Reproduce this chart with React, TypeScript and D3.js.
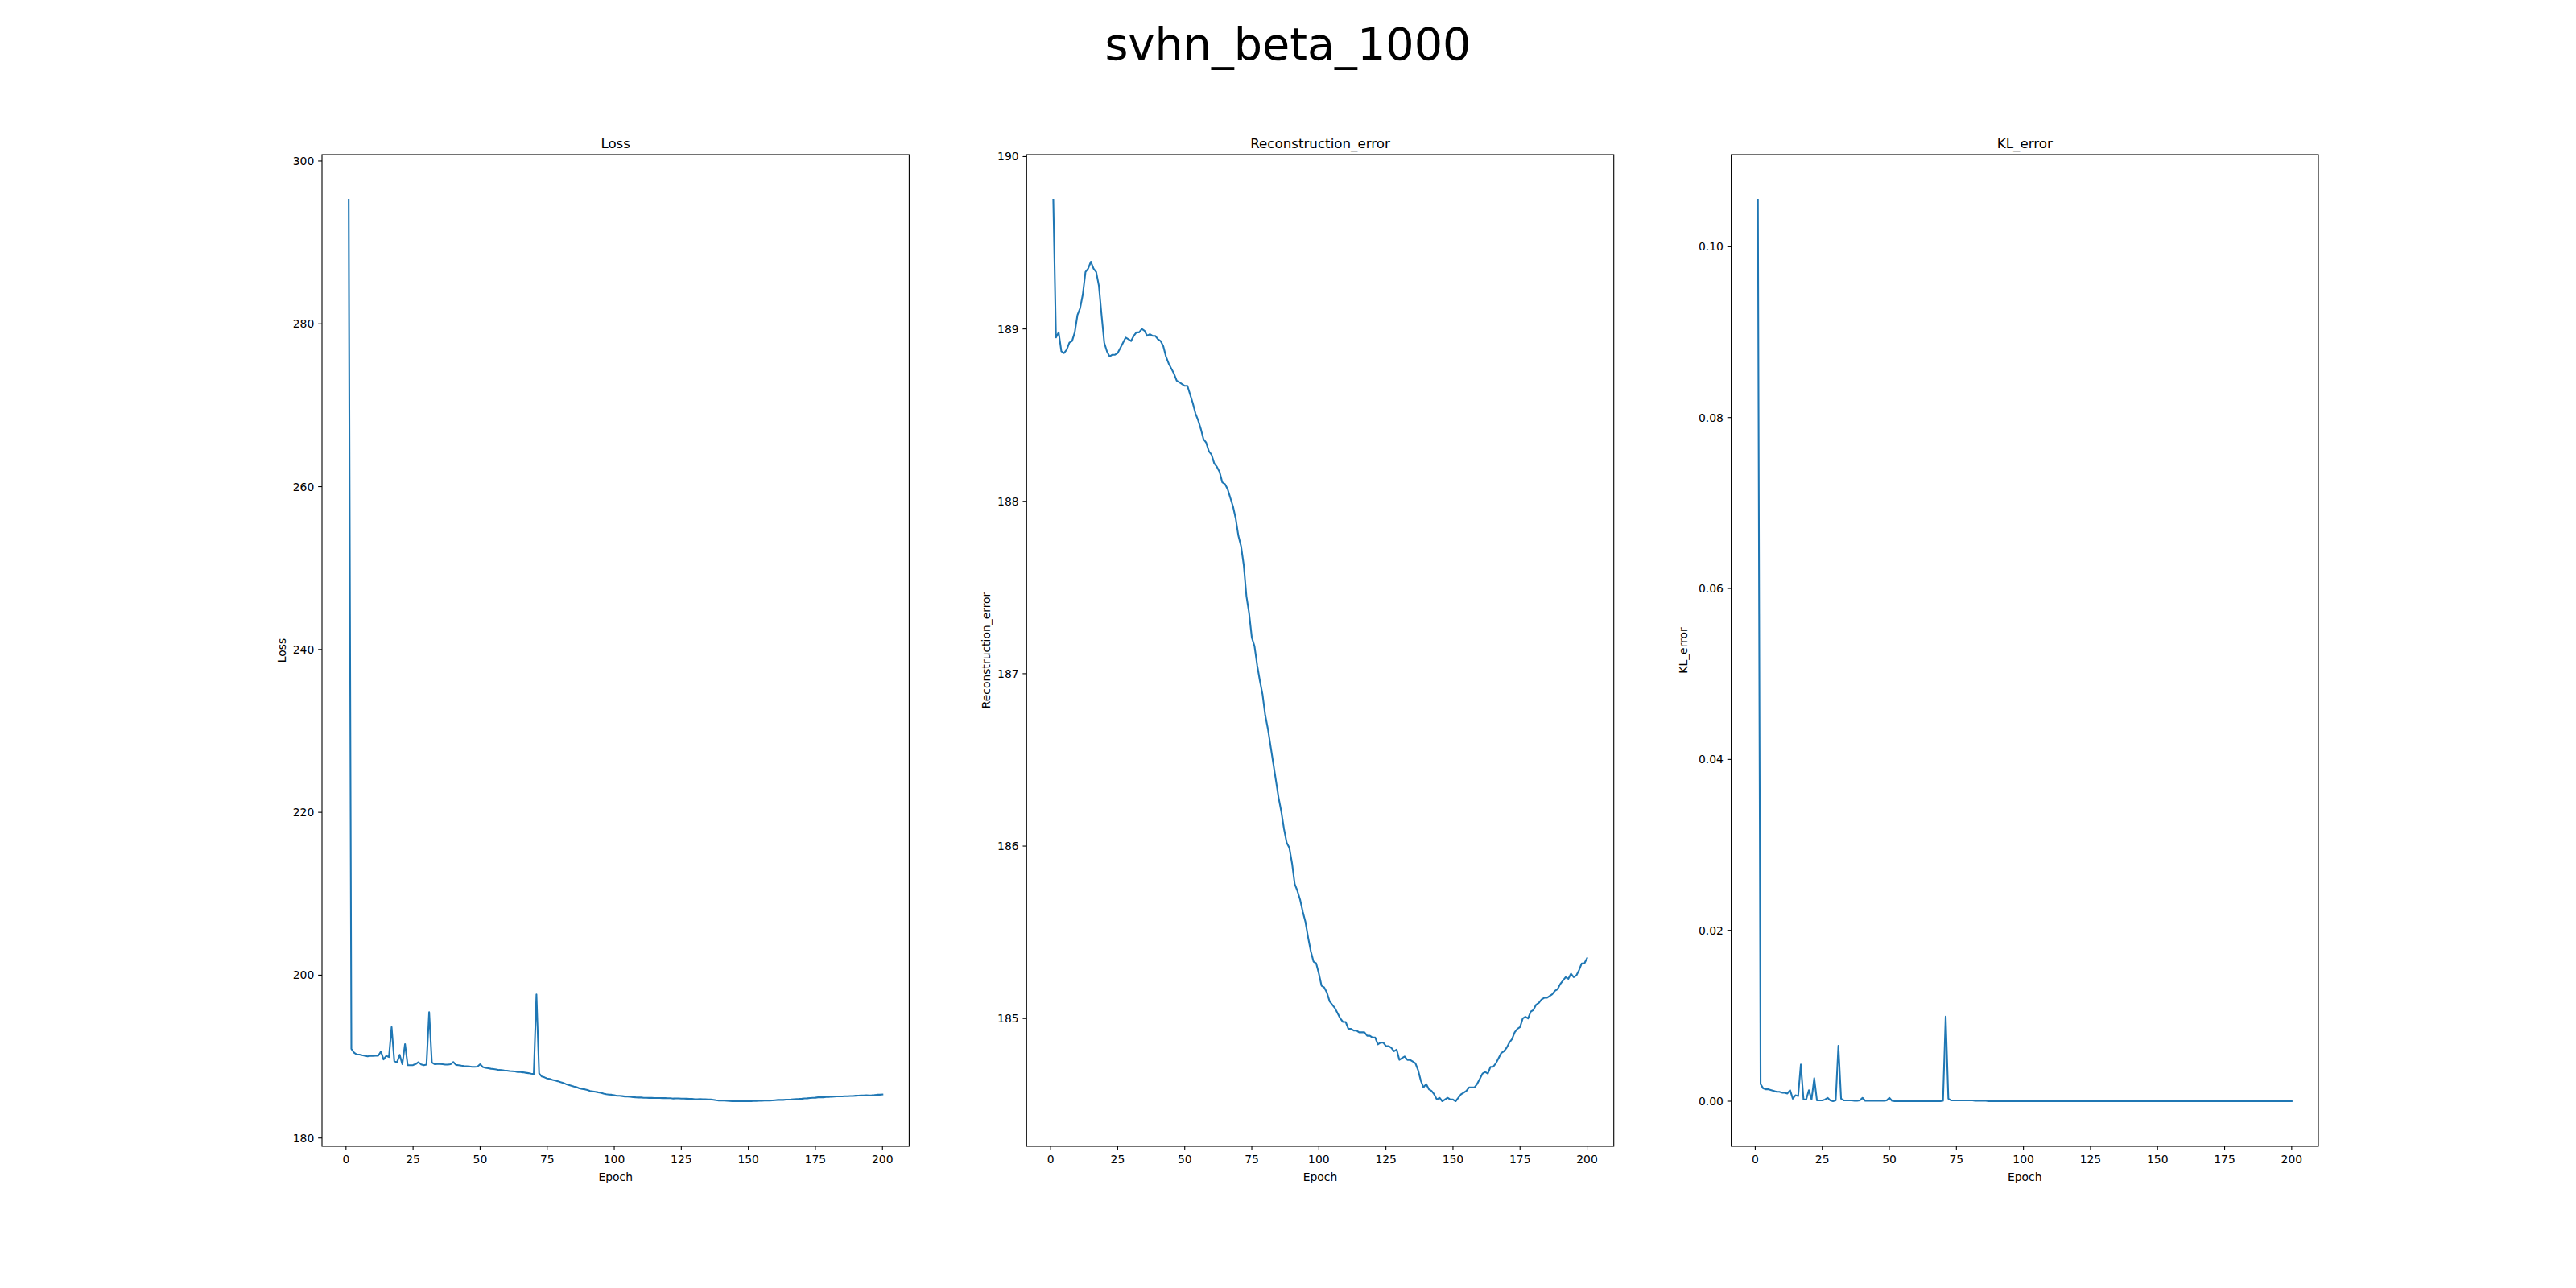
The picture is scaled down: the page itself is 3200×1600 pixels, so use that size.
import React from "react";
import * as d3 from "d3";

const epochs: number[] = Array.from({ length: 200 }, (_, i) => i + 1);

const reconstruction: number[] = [
  189.75, 188.95, 188.98, 188.87, 188.86, 188.88, 188.92, 188.93, 188.98, 189.08,
  189.12, 189.2, 189.33, 189.35, 189.39, 189.35, 189.33, 189.25, 189.08, 188.92,
  188.87, 188.84, 188.85, 188.85, 188.86, 188.89, 188.92, 188.95, 188.94, 188.93,
  188.96, 188.98, 188.98, 189.0, 188.99, 188.96, 188.97, 188.96, 188.96, 188.94,
  188.93, 188.9, 188.84, 188.8, 188.77, 188.74, 188.7, 188.69, 188.68, 188.67,
  188.67, 188.62, 188.57, 188.51, 188.47, 188.42, 188.36, 188.34, 188.29, 188.27,
  188.22, 188.2, 188.17, 188.11, 188.1, 188.07, 188.02, 187.97, 187.9, 187.8,
  187.74, 187.63, 187.45, 187.35, 187.21, 187.16, 187.05, 186.96, 186.88, 186.76,
  186.68, 186.58, 186.48, 186.38, 186.28, 186.2, 186.1, 186.02, 185.99, 185.9,
  185.78, 185.74, 185.69, 185.62, 185.56, 185.47, 185.39, 185.33, 185.32, 185.26,
  185.19, 185.18, 185.15, 185.1, 185.08, 185.06, 185.03, 185.0, 184.98, 184.98,
  184.94, 184.94, 184.93, 184.93, 184.92, 184.92, 184.92, 184.9, 184.9, 184.89,
  184.89, 184.85, 184.86, 184.86, 184.84, 184.84, 184.83, 184.81, 184.82, 184.76,
  184.77, 184.78, 184.76, 184.76, 184.75, 184.74, 184.7, 184.64, 184.6, 184.62,
  184.59, 184.58, 184.56, 184.53, 184.54, 184.52, 184.53, 184.54, 184.53, 184.53,
  184.52, 184.54, 184.56, 184.57, 184.58, 184.6, 184.6, 184.6, 184.62, 184.65,
  184.68, 184.69, 184.68, 184.72, 184.72, 184.74, 184.77, 184.8, 184.81, 184.83,
  184.86, 184.88, 184.92, 184.94, 184.95, 185.0, 185.01, 185.0, 185.04, 185.05,
  185.08, 185.09, 185.11, 185.12, 185.12, 185.13, 185.14, 185.16, 185.17, 185.2,
  185.22, 185.24, 185.23, 185.26, 185.24, 185.25, 185.28, 185.32, 185.32, 185.35,
];

const klError: number[] = [
  0.1055, 0.002, 0.0015, 0.0014, 0.0014, 0.0013, 0.0012, 0.0011, 0.0011, 0.001,
  0.001, 0.0009, 0.0013, 0.0003, 0.0007, 0.0006, 0.0043, 0.0002, 0.0002, 0.0013,
  0.0002, 0.0027, 0.0001, 0.0001, 0.0001, 0.0002, 0.0004, 0.0001, 0.0, 0.0001,
  0.0065, 0.0003, 0.0001, 0.0001, 0.0001, 0.0001, 0.00005, 0.00005, 0.0001, 0.0004,
  0.00005, 0.00005, 0.00005, 0.00005, 0.00005, 0.00005, 0.00005, 0.00005, 0.0001, 0.0004,
  0.00005, 0, 0, 0, 0, 0, 0, 0, 0, 0,
  0, 0, 0, 0, 0, 0, 0, 0, 0, 0.00005,
  0.0099, 0.0003, 0.0001, 0.0001, 0.0001, 0.0001, 0.0001, 0.0001, 0.0001, 0.0001,
  0.0001, 0.00005, 0.00005, 0.00005, 0.00005, 0.00005, 0, 0, 0, 0,
  0, 0, 0, 0, 0, 0, 0, 0, 0, 0,
  0, 0, 0, 0, 0, 0, 0, 0, 0, 0,
  0, 0, 0, 0, 0, 0, 0, 0, 0, 0,
  0, 0, 0, 0, 0, 0, 0, 0, 0, 0,
  0, 0, 0, 0, 0, 0, 0, 0, 0, 0,
  0, 0, 0, 0, 0, 0, 0, 0, 0, 0,
  0, 0, 0, 0, 0, 0, 0, 0, 0, 0,
  0, 0, 0, 0, 0, 0, 0, 0, 0, 0,
  0, 0, 0, 0, 0, 0, 0, 0, 0, 0,
  0, 0, 0, 0, 0, 0, 0, 0, 0, 0,
  0, 0, 0, 0, 0, 0, 0, 0, 0, 0,
];

// loss of a beta-VAE with beta = 1000: reconstruction + beta * KL (matches the plotted curve)
const beta = 1000;
const loss: number[] = reconstruction.map((r, i) => r + beta * klError[i]);

const xTicks = [0, 25, 50, 75, 100, 125, 150, 175, 200];
const lossTicks = [180, 200, 220, 240, 260, 280, 300];
const reconTicks = [185, 186, 187, 188, 189, 190];
const klTicks = [0, 0.02, 0.04, 0.06, 0.08, 0.1];

const panels = [
  { title: "Loss", ylabel: "Loss", values: loss, ticks: lossTicks, fmt: (v: number) => String(v) },
  { title: "Reconstruction_error", ylabel: "Reconstruction_error", values: reconstruction, ticks: reconTicks, fmt: (v: number) => String(v) },
  { title: "KL_error", ylabel: "KL_error", values: klError, ticks: klTicks, fmt: (v: number) => v.toFixed(2) },
];

const W = 3200, H = 1600;
const left = 400, right = 2880, top = 192, bottom = 1424;
const axW = (right - left) / 3.4;
const FONT = "DejaVu Sans, sans-serif";
const tickFs = 13.9;

function pad([a, b]: [number, number]): [number, number] {
  const p = (b - a) * 0.05;
  return [a - p, b + p];
}

function Panel({ idx }: { idx: number }) {
  const p = panels[idx];
  const x0 = left + idx * axW * 1.2;
  const x = d3.scaleLinear().domain(pad(d3.extent(epochs) as [number, number])).range([x0, x0 + axW]);
  const y = d3.scaleLinear().domain(pad(d3.extent(p.values) as [number, number])).range([bottom, top]);
  const line = d3.line<number>().x((_, i) => x(epochs[i])).y((v) => y(v));
  const maxLabel = Math.max(...p.ticks.map((t) => p.fmt(t).length));
  return (
    <g fontFamily={FONT}>
      <path d={line(p.values) || ""} fill="none" stroke="#1f77b4" strokeWidth={2.08} strokeLinejoin="round" strokeLinecap="square" />
      <rect x={x0} y={top} width={axW} height={bottom - top} fill="none" stroke="#000" strokeWidth={1.1} />
      {xTicks.map((t) => (
        <g key={t}>
          <line x1={x(t)} x2={x(t)} y1={bottom} y2={bottom + 4.86} stroke="#000" strokeWidth={1.1} />
          <text x={x(t)} y={bottom + 9.7 + 11} fontSize={tickFs} textAnchor="middle">{t}</text>
        </g>
      ))}
      {p.ticks.map((t) => (
        <g key={t}>
          <line x1={x0} x2={x0 - 4.86} y1={y(t)} y2={y(t)} stroke="#000" strokeWidth={1.1} />
          <text x={x0 - 9.7} y={y(t) + 5} fontSize={tickFs} textAnchor="end">{p.fmt(t)}</text>
        </g>
      ))}
      <text x={x0 + axW / 2} y={bottom + 43} fontSize={tickFs} textAnchor="middle">Epoch</text>
      <text transform={`translate(${x0 - 9.7 - maxLabel * 8.85 - 9},${(top + bottom) / 2}) rotate(-90)`} fontSize={tickFs} textAnchor="middle">{p.ylabel}</text>
      <text x={x0 + axW / 2} y={top - 8.3} fontSize={16.7} textAnchor="middle">{p.title}</text>
    </g>
  );
}

export default function App() {
  return (
    <svg width={W} height={H} style={{ position: "absolute", left: 0, top: 0, background: "#fff" }}>
      <rect width={W} height={H} fill="#fff" />
      <text x={W / 2} y={74} fontSize={55.6} fontFamily={FONT} textAnchor="middle">svhn_beta_1000</text>
      {panels.map((_, i) => <Panel key={i} idx={i} />)}
    </svg>
  );
}
